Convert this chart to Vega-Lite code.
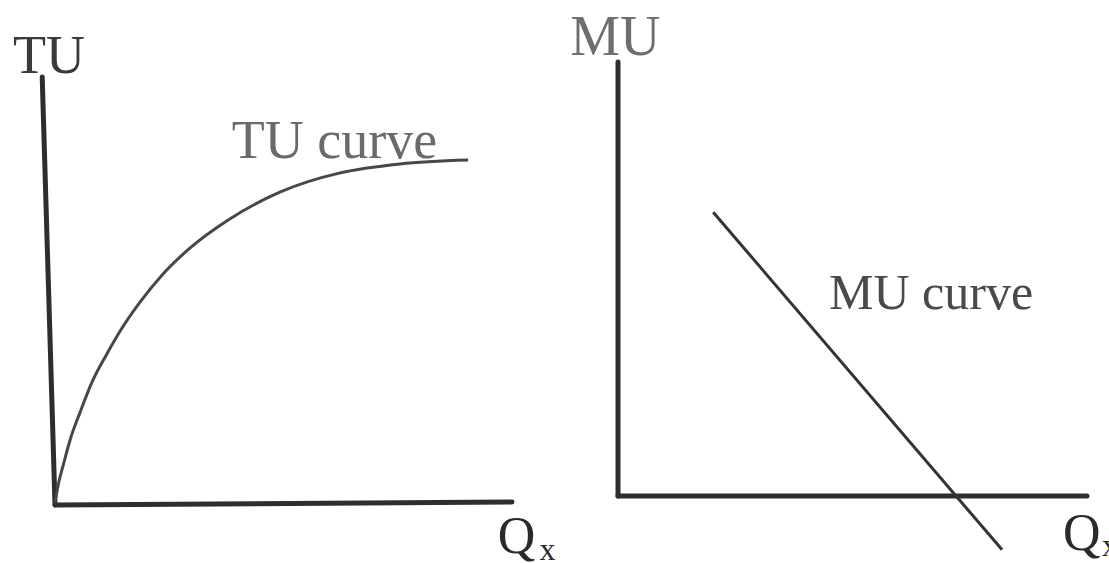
{
  "$schema": "https://vega.github.io/schema/vega-lite/v6.json",
  "padding": 0,
  "spacing": 0,
  "bounds": "flush",
  "background": "white",
  "config": {"view": {"stroke": null}, "font": "Liberation Serif"},
  "datasets": {
    "tuAxes": [
      {"axis": "TU", "q0": 0, "u0": 0, "q1": -0.28, "u1": 10},
      {"axis": "Qx", "q0": 0, "u0": 0, "q1": 10, "u1": 0.07}
    ],
    "tuCurve": [
      {"q": 0.0, "u": 0.05},
      {"q": 0.07, "u": 0.47},
      {"q": 0.18, "u": 0.93},
      {"q": 0.33, "u": 1.52},
      {"q": 0.55, "u": 2.17},
      {"q": 0.81, "u": 2.87},
      {"q": 1.12, "u": 3.5},
      {"q": 1.47, "u": 4.14},
      {"q": 1.86, "u": 4.74},
      {"q": 2.34, "u": 5.37},
      {"q": 2.95, "u": 6.0},
      {"q": 3.79, "u": 6.66},
      {"q": 4.92, "u": 7.31},
      {"q": 6.24, "u": 7.76},
      {"q": 7.55, "u": 7.97},
      {"q": 9.04, "u": 8.06}
    ],
    "tuLabels": [
      {"kind": "axis", "label": "TU", "q": -0.92, "u": 10.09},
      {"kind": "curve", "label": "TU curve", "q": 3.87, "u": 8.1},
      {"kind": "quantity", "label": "Q", "q": 9.69, "u": -1.12},
      {"kind": "sub", "label": "x", "q": 10.6, "u": -1.29}
    ],
    "muAxes": [
      {"axis": "MU", "q0": 0, "u0": 0, "q1": 0, "u1": 10},
      {"axis": "Qx", "q0": 0, "u0": 0, "q1": 10, "u1": 0}
    ],
    "muCurve": [
      {"q": 2.03, "u": 6.54},
      {"q": 8.19, "u": -1.24}
    ],
    "muLabels": [
      {"kind": "axis", "label": "MU", "q": -1.02, "u": 10.16},
      {"kind": "curve", "label": "MU curve", "q": 4.5, "u": 4.3},
      {"kind": "quantity", "label": "Q", "q": 9.49, "u": -1.24},
      {"kind": "sub", "label": "x", "q": 10.32, "u": -1.38}
    ]
  },
  "hconcat": [
    {
      "width": 570,
      "height": 563,
      "layer": [
        {
          "data": {"name": "tuAxes"},
          "mark": {"type": "rule", "stroke": "#2e2e2e", "strokeWidth": 5, "strokeCap": "round"},
          "encoding": {
            "x": {"field": "q0", "type": "quantitative", "axis": null,
                  "scale": {"domain": [0, 10], "range": [55, 512], "nice": false, "zero": false}},
            "y": {"field": "u0", "type": "quantitative", "axis": null,
                  "scale": {"domain": [0, 10], "range": [505, 77], "nice": false, "zero": false}},
            "x2": {"field": "q1"},
            "y2": {"field": "u1"}
          }
        },
        {
          "data": {"name": "tuCurve"},
          "mark": {"type": "line", "interpolate": "monotone", "stroke": "#474747", "strokeWidth": 3},
          "encoding": {
            "x": {"field": "q", "type": "quantitative"},
            "y": {"field": "u", "type": "quantitative"}
          }
        },
        {
          "data": {"name": "tuLabels"},
          "transform": [{"filter": "datum.kind === 'axis'"}],
          "mark": {"type": "text", "align": "left", "baseline": "alphabetic", "fontSize": 54, "fill": "#3a3a3a"},
          "encoding": {
            "x": {"field": "q", "type": "quantitative"},
            "y": {"field": "u", "type": "quantitative"},
            "text": {"field": "label"}
          }
        },
        {
          "data": {"name": "tuLabels"},
          "transform": [{"filter": "datum.kind === 'curve'"}],
          "mark": {"type": "text", "align": "left", "baseline": "alphabetic", "fontSize": 54, "fill": "#6a6a6a"},
          "encoding": {
            "x": {"field": "q", "type": "quantitative"},
            "y": {"field": "u", "type": "quantitative"},
            "text": {"field": "label"}
          }
        },
        {
          "data": {"name": "tuLabels"},
          "transform": [{"filter": "datum.kind === 'quantity'"}],
          "mark": {"type": "text", "align": "left", "baseline": "alphabetic", "fontSize": 52, "fill": "#2a2a2a"},
          "encoding": {
            "x": {"field": "q", "type": "quantitative"},
            "y": {"field": "u", "type": "quantitative"},
            "text": {"field": "label"}
          }
        },
        {
          "data": {"name": "tuLabels"},
          "transform": [{"filter": "datum.kind === 'sub'"}],
          "mark": {"type": "text", "align": "left", "baseline": "alphabetic", "fontSize": 32, "fill": "#2a2a2a"},
          "encoding": {
            "x": {"field": "q", "type": "quantitative"},
            "y": {"field": "u", "type": "quantitative"},
            "text": {"field": "label"}
          }
        }
      ]
    },
    {
      "width": 539,
      "height": 563,
      "layer": [
        {
          "data": {"name": "muAxes"},
          "mark": {"type": "rule", "stroke": "#2e2e2e", "strokeWidth": 5, "strokeCap": "round"},
          "encoding": {
            "x": {"field": "q0", "type": "quantitative", "axis": null,
                  "scale": {"domain": [0, 10], "range": [48, 517], "nice": false, "zero": false}},
            "y": {"field": "u0", "type": "quantitative", "axis": null,
                  "scale": {"domain": [0, 10], "range": [496, 62], "nice": false, "zero": false}},
            "x2": {"field": "q1"},
            "y2": {"field": "u1"}
          }
        },
        {
          "data": {"name": "muCurve"},
          "mark": {"type": "line", "stroke": "#333333", "strokeWidth": 3},
          "encoding": {
            "x": {"field": "q", "type": "quantitative"},
            "y": {"field": "u", "type": "quantitative"}
          }
        },
        {
          "data": {"name": "muLabels"},
          "transform": [{"filter": "datum.kind === 'axis'"}],
          "mark": {"type": "text", "align": "left", "baseline": "alphabetic", "fontSize": 56, "fill": "#6e6e6e"},
          "encoding": {
            "x": {"field": "q", "type": "quantitative"},
            "y": {"field": "u", "type": "quantitative"},
            "text": {"field": "label"}
          }
        },
        {
          "data": {"name": "muLabels"},
          "transform": [{"filter": "datum.kind === 'curve'"}],
          "mark": {"type": "text", "align": "left", "baseline": "alphabetic", "fontSize": 50, "fill": "#4a4a4a"},
          "encoding": {
            "x": {"field": "q", "type": "quantitative"},
            "y": {"field": "u", "type": "quantitative"},
            "text": {"field": "label"}
          }
        },
        {
          "data": {"name": "muLabels"},
          "transform": [{"filter": "datum.kind === 'quantity'"}],
          "mark": {"type": "text", "align": "left", "baseline": "alphabetic", "fontSize": 52, "fill": "#2a2a2a"},
          "encoding": {
            "x": {"field": "q", "type": "quantitative"},
            "y": {"field": "u", "type": "quantitative"},
            "text": {"field": "label"}
          }
        },
        {
          "data": {"name": "muLabels"},
          "transform": [{"filter": "datum.kind === 'sub'"}],
          "mark": {"type": "text", "align": "left", "baseline": "alphabetic", "fontSize": 32, "fill": "#2a2a2a"},
          "encoding": {
            "x": {"field": "q", "type": "quantitative"},
            "y": {"field": "u", "type": "quantitative"},
            "text": {"field": "label"}
          }
        }
      ]
    }
  ]
}
